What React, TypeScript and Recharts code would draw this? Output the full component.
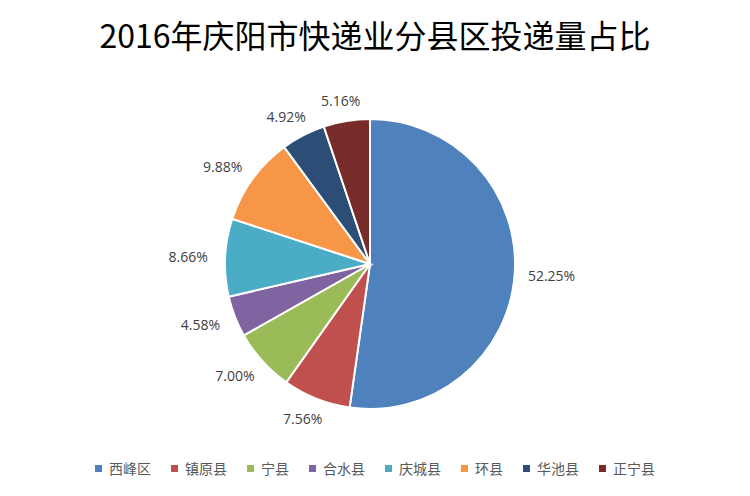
import { PieChart, Pie, Cell, Legend } from 'recharts';

const districts = ['西峰区', '镇原县', '宁县', '合水县', '庆城县', '环县', '华池县', '正宁县'];
const shares = [52.25, 7.56, 7.0, 4.58, 8.66, 9.88, 4.92, 5.16];
const COLORS = ['#4F81BD', '#C0504D', '#9BBB59', '#8064A2', '#4BACC6', '#F79646', '#2C4D75', '#772C2A'];

const pieData = districts.map((name, i) => ({ name, value: shares[i] }));

const RAD = Math.PI / 180;

const renderLabel = (props: any) => {
  const { cx, cy, midAngle, outerRadius, value } = props;
  const c = Math.cos(-midAngle * RAD);
  const s = Math.sin(-midAngle * RAD);
  const r0 = outerRadius + 13;
  const x = cx + r0 * c + c * 24;
  const y = cy + r0 * s + s * 8;
  return (
    <text
      x={x}
      y={y}
      fill="#404040"
      fontSize={14}
      fontFamily="'Open Sans', sans-serif"
      textAnchor="middle"
      dominantBaseline="central"
    >
      {`${value.toFixed(2)}%`}
    </text>
  );
};

const LegendContent = () => (
  <div style={{ display: 'flex', justifyContent: 'center', fontFamily: "'Noto Sans CJK SC', sans-serif", fontSize: 14, color: '#595959' }}>
    {districts.map((d, i) => (
      <div key={d} style={{ display: 'flex', alignItems: 'center', marginRight: i < districts.length - 1 ? 20 : 0 }}>
        <span style={{ width: 7, height: 7, background: COLORS[i], display: 'inline-block', marginRight: 7 }} />
        <span>{d}</span>
      </div>
    ))}
  </div>
);

export default function App() {
  return (
    <div style={{ position: 'relative', width: 750, height: 496, background: '#fff' }}>
      <style>{`body{margin:0}`}</style>
      <div
        style={{
          position: 'absolute',
          top: 10,
          left: 0,
          width: 750,
          textAlign: 'center',
          fontFamily: "'Noto Sans CJK SC', sans-serif",
          fontSize: 32,
          lineHeight: '48px',
          color: '#000',
        }}
      >
        2016年庆阳市快递业分县区投递量占比
      </div>
      <PieChart width={750} height={496} margin={{ top: 0, right: 0, bottom: 0, left: 0 }}>
        <Pie
          data={pieData}
          dataKey="value"
          nameKey="name"
          cx={370}
          cy={264}
          outerRadius={145}
          startAngle={90}
          endAngle={-270}
          stroke="#fff"
          strokeWidth={2}
          label={renderLabel}
          labelLine={false}
          isAnimationActive={false}
        >
          {pieData.map((d, i) => (
            <Cell key={d.name} fill={COLORS[i]} />
          ))}
        </Pie>
        <Legend
          content={<LegendContent />}
          verticalAlign="bottom"
          wrapperStyle={{ bottom: 18 }}
        />
      </PieChart>
    </div>
  );
}
